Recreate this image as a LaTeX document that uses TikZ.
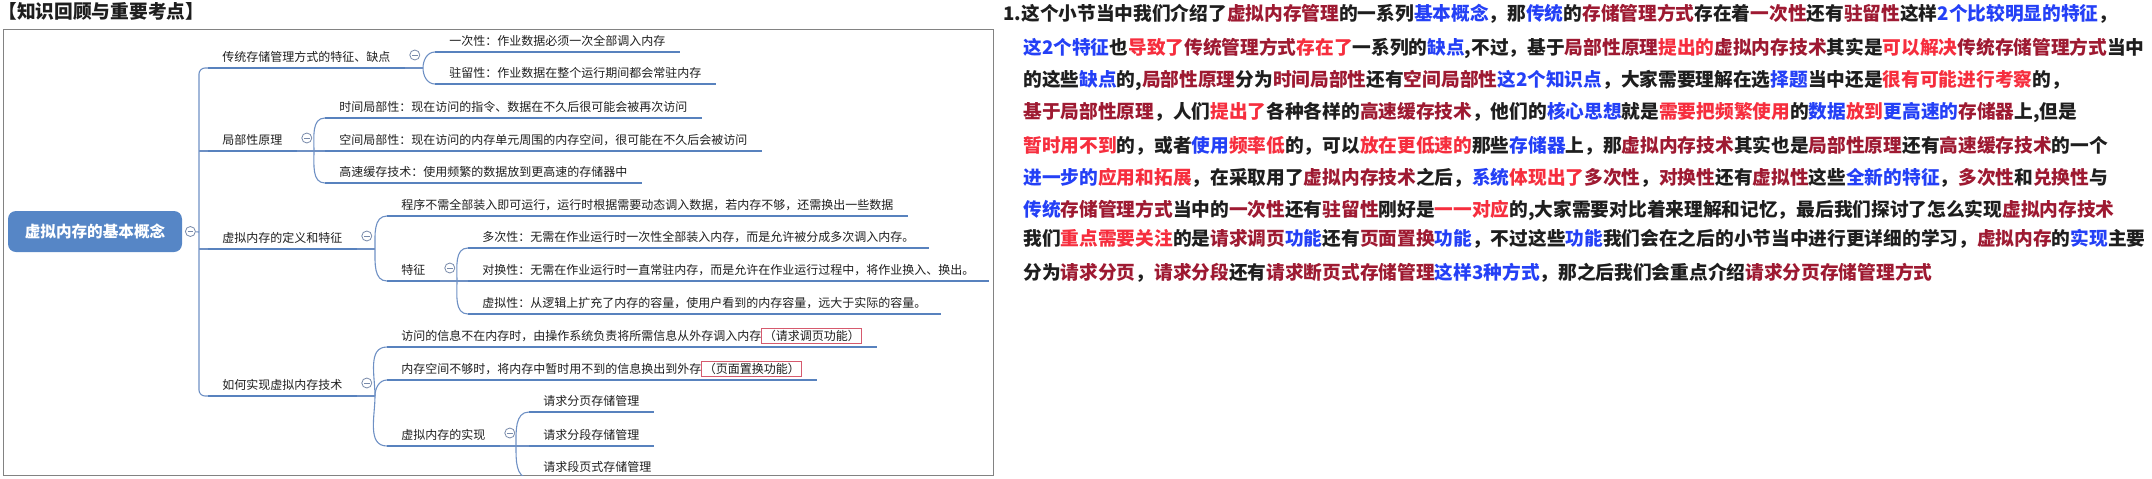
\documentclass[tikz,border=0pt]{standalone}
\usepackage{fontspec}
\usepackage{xcolor}
\usetikzlibrary{positioning}
\setmainfont{Noto Sans CJK SC}
\definecolor{keydark}{RGB}{158,26,50}
\definecolor{keyred}{RGB}{246,46,62}
\definecolor{keyblue}{RGB}{36,64,246}
\definecolor{inkblack}{RGB}{30,30,30}
\definecolor{mapblue}{RGB}{88,130,190}
\definecolor{mapline}{RGB}{110,144,196}
\definecolor{rootblue}{RGB}{86,134,198}
\definecolor{foldgray}{RGB}{120,138,170}
\definecolor{framegray}{RGB}{130,130,130}
\definecolor{boxred}{RGB}{214,90,110}
\newcommand\darkkey[1]{\textcolor{keydark}{#1}}
\newcommand\redkey[1]{\textcolor{keyred}{#1}}
\newcommand\bluekey[1]{\textcolor{keyblue}{#1}}
\newcommand\funcbox[1]{{\setlength\fboxsep{0.8pt}\setlength\fboxrule{0.4pt}\fcolorbox{boxred}{white}{#1}}}

\begin{document}
\begin{tikzpicture}[
  x=0.5pt, y=-0.5pt,
  topic/.style={anchor=south west, inner xsep=7pt, inner ysep=3.2pt, text height=5.3pt, text depth=0pt, font=\fontsize{6}{7}\selectfont, text=inkblack},
  topicline/.style={draw=mapblue, line width=1.4pt},
  link/.style={draw=mapline, line width=0.55pt},
  foldmark/.style={circle, draw=foldgray, line width=0.4pt, fill=white, minimum size=5pt, inner sep=0pt, path picture={\draw[foldgray, line width=0.4pt] ([xshift=1.1pt]path picture bounding box.west) -- ([xshift=-1.1pt]path picture bounding box.east);}},
  rootbox/.style={fill=rootblue, rounded corners=4pt, minimum width=87pt, minimum height=20.5pt, text=white, font=\fontsize{7.8}{9}\selectfont\bfseries},
  para/.style={anchor=west, inner sep=0pt, font=\fontsize{9.35}{11}\selectfont\bfseries, text=inkblack}
]
  \useasboundingbox (0,0) rectangle (2152,478);

  \node[para] (heading) at (-2,11) {【知识回顾与重要考点】};
  \draw[framegray, line width=0.5pt] (3,29) rectangle (993,475);

  \begin{scope}
  \clip (3,29) rectangle (993,475);
  \node[rootbox] (root) at (95,231.5) {虚拟内存的基本概念};
  \node[foldmark] (rootfold) at ([xshift=4pt]root.east) {};
  \coordinate (trunk) at (199,232);

  \node[topic] (trad) at (208,68) {传统存储管理方式的特征、缺点};
  \node[topic] (local) at (208,151) {局部性原理};
  \node[topic] (vdef) at (208,249) {虚拟内存的定义和特征};
  \node[topic] (howto) at (208,396) {如何实现虚拟内存技术};

  \node[topic] (once) at (435,52) {一次性：作业数据必须一次全部调入内存};
  \node[topic] (resident) at (435,84) {驻留性：作业数据在整个运行期间都会常驻内存};

  \node[topic] (timeloc) at (325,118) {时间局部性：现在访问的指令、数据在不久后很可能会被再次访问};
  \node[topic] (spaceloc) at (325,151) {空间局部性：现在访问的内存单元周围的内存空间，很可能在不久后会被访问};
  \node[topic] (cache) at (325,183) {高速缓存技术：使用频繁的数据放到更高速的存储器中};

  \node[topic] (partial) at (387,216) {程序不需全部装入即可运行，运行时根据需要动态调入数据，若内存不够，还需换出一些数据};
  \node[topic] (feature) at (387,281) {特征};
  \node[topic] (multi) at (468,248) {多次性：无需在作业运行时一次性全部装入内存，而是允许被分成多次调入内存。};
  \node[topic] (swap) at (468,281) {对换性：无需在作业运行时一直常驻内存，而是允许在作业运行过程中，将作业换入、换出。};
  \node[topic] (virt) at (468,314) {虚拟性：从逻辑上扩充了内存的容量，使用户看到的内存容量，远大于实际的容量。};

  \node[topic] (pagein) at (387,347) {访问的信息不在内存时，由操作系统负责将所需信息从外存调入内存\funcbox{（请求调页功能）}};
  \node[topic] (pageout) at (387,380) {内存空间不够时，将内存中暂时用不到的信息换出到外存\funcbox{（页面置换功能）}};
  \node[topic] (impl) at (387,446) {虚拟内存的实现};
  \node[topic] (reqpage) at (529,412) {请求分页存储管理};
  \node[topic] (reqseg) at (529,446) {请求分段存储管理};
  \node[topic] (reqsegpage) at (529,478) {请求段页式存储管理};

  \foreach \n in {trad,local,vdef,howto,once,resident,timeloc,spaceloc,cache,partial,feature,multi,swap,virt,pagein,pageout,impl,reqpage,reqseg,reqsegpage}
    \draw[topicline] (\n.south west) -- (\n.south east);

  \draw[link, rounded corners=3pt] (trad.south west) -| (trunk) |- (howto.south west);
  \draw[link] (rootfold) -- (trunk);
  \draw[link] (trunk |- local.south west) -- (local.south west);
  \draw[link] (trunk |- vdef.south west) -- (vdef.south west);

  \coordinate (tradjoin) at (423,68);
  \coordinate (localjoin) at (314,151);
  \coordinate (vdefjoin) at (375,249);
  \coordinate (featjoin) at (457,281);
  \coordinate (howjoin) at (375,396);
  \coordinate (impljoin) at (516,446);

  \draw[link] (trad.south east) -- (tradjoin);
  \draw[link] (tradjoin) to[out=90, in=180] (once.south west);
  \draw[link] (tradjoin) to[out=-90, in=180] (resident.south west);

  \draw[link] (local.south east) -- (localjoin);
  \draw[link] (localjoin) to[out=90, in=180] (timeloc.south west);
  \draw[link] (localjoin) -- (spaceloc.south west);
  \draw[link] (localjoin) to[out=-90, in=180] (cache.south west);

  \draw[link] (vdef.south east) -- (vdefjoin);
  \draw[link] (vdefjoin) to[out=90, in=180] (partial.south west);
  \draw[link] (vdefjoin) to[out=-90, in=180] (feature.south west);

  \draw[link] (feature.south east) -- (featjoin);
  \draw[link] (featjoin) to[out=90, in=180] (multi.south west);
  \draw[link] (featjoin) -- (swap.south west);
  \draw[link] (featjoin) to[out=-90, in=180] (virt.south west);

  \draw[link] (howto.south east) -- (howjoin);
  \draw[link] (howjoin) to[out=90, in=180] (pagein.south west);
  \draw[link] (howjoin) to[out=90, in=180] (pageout.south west);
  \draw[link] (howjoin) to[out=-90, in=180] (impl.south west);

  \draw[link] (impl.south east) -- (impljoin);
  \draw[link] (impljoin) to[out=90, in=180] (reqpage.south west);
  \draw[link] (impljoin) -- (reqseg.south west);
  \draw[link] (impljoin) to[out=-90, in=180] (reqsegpage.south west);

  \node[foldmark] (tradfold) at ([shift={(5pt,6.5pt)}]trad.south east) {};
  \node[foldmark] (localfold) at ([shift={(5pt,6.5pt)}]local.south east) {};
  \node[foldmark] (vdeffold) at ([shift={(5pt,6.5pt)}]vdef.south east) {};
  \node[foldmark] (featfold) at ([shift={(5pt,6.5pt)}]feature.south east) {};
  \node[foldmark] (howfold) at ([shift={(5pt,6.5pt)}]howto.south east) {};
  \node[foldmark] (implfold) at ([shift={(5pt,6.5pt)}]impl.south east) {};
  \end{scope}

  \node[para] (line1) at (1003,14) {1.这个小节当中我们介绍了\darkkey{虚拟内存管理}的一系列\bluekey{基本概念}，那\bluekey{传统}的\darkkey{存储管理方式}存在着\darkkey{一次性}还有\darkkey{驻留性}这样\bluekey{2个比较明显的特征}，};
  \node[para] (line2) at (1023,48) {\bluekey{这2个特征}也\redkey{导致了}\darkkey{传统管理方式}\redkey{存在了}一系列的\bluekey{缺点},不过，基于\darkkey{局部性原理}\redkey{提出的}\darkkey{虚拟内存技术}其实是\redkey{可以解决}\darkkey{传统存储管理方式}当中};
  \node[para] (line3) at (1023,80) {的这些\bluekey{缺点}的,\darkkey{局部性原理}分为\darkkey{时间局部性}还有\darkkey{空间局部性}\bluekey{这2个知识点}，大家需要理解在选\bluekey{择题}当中还是\redkey{很有可能进行考察}的，};
  \node[para] (line4) at (1023,113) {\darkkey{基于局部性原理}，人们\redkey{提出了}各种各样的\darkkey{高速缓存技术}，他们的\bluekey{核心思想}就是\redkey{需要把频繁使用}的\bluekey{数据}\redkey{放到}\bluekey{更高速的}\darkkey{存储器}上,但是};
  \node[para] (line5) at (1023,146) {\redkey{暂时用不到}的，或者\bluekey{使用}\redkey{频率低}的，可以\redkey{放在更低速的}那些\bluekey{存储器}上，那\darkkey{虚拟内存技术}其实也是\darkkey{局部性原理}还有\darkkey{高速缓存技术}的一个};
  \node[para] (line6) at (1023,178) {\bluekey{进一步的}\redkey{应用和拓展}，在采取用了\darkkey{虚拟内存技术}之后，\bluekey{系统}\redkey{体现出了}\darkkey{多次性}，\darkkey{对换性}还有\darkkey{虚拟性}这些\bluekey{全新的特征}，\darkkey{多次性}和\darkkey{兑换性}与};
  \node[para] (line7) at (1023,210) {\bluekey{传统}\darkkey{存储管理方式}当中的\darkkey{一次性}还有\darkkey{驻留性}刚好是\redkey{一一对应}的,大家需要对比着来理解和记忆，最后我们探讨了怎么实现\darkkey{虚拟内存技术}};
  \node[para] (line8) at (1023,239) {我们\redkey{重点需要关注}的是\darkkey{请求调页}\bluekey{功能}还有\darkkey{页面置换}\bluekey{功能}，不过这些\bluekey{功能}我们会在之后的小节当中进行更详细的学习，\darkkey{虚拟内存}的\bluekey{实现}主要};
  \node[para] (line9) at (1023,273) {分为\darkkey{请求分页}，\darkkey{请求分段}还有\darkkey{请求断页式存储管理}\bluekey{这样3种方式}，那之后我们会重点介绍\darkkey{请求分页存储管理方式}};
\end{tikzpicture}
\end{document}
